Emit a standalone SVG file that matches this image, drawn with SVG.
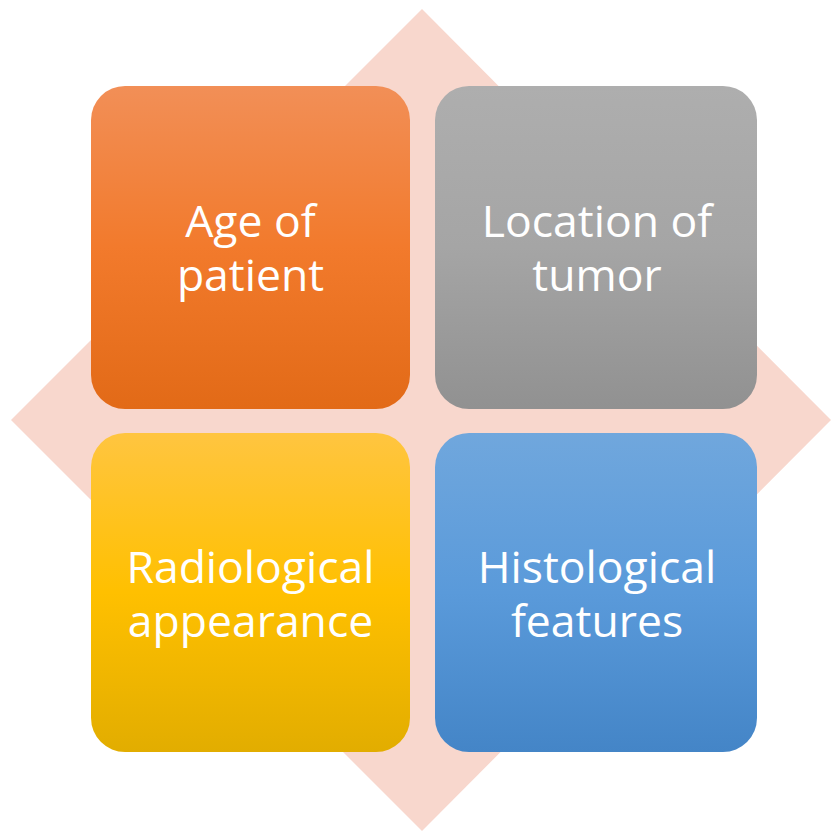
<svg xmlns="http://www.w3.org/2000/svg" width="831" height="832" viewBox="0 0 831 832">
<defs>
<linearGradient id="gOrange" x1="0" y1="0" x2="0" y2="1"><stop offset="0" stop-color="#F28F57"/><stop offset="0.5" stop-color="#F27A2C"/><stop offset="1" stop-color="#E26A17"/></linearGradient>
<linearGradient id="gGray" x1="0" y1="0" x2="0" y2="1"><stop offset="0" stop-color="#AEAEAE"/><stop offset="0.5" stop-color="#A5A5A5"/><stop offset="1" stop-color="#919191"/></linearGradient>
<linearGradient id="gYellow" x1="0" y1="0" x2="0" y2="1"><stop offset="0" stop-color="#FFC540"/><stop offset="0.5" stop-color="#FFC000"/><stop offset="1" stop-color="#E2AD00"/></linearGradient>
<linearGradient id="gBlue" x1="0" y1="0" x2="0" y2="1"><stop offset="0" stop-color="#70A7DD"/><stop offset="0.5" stop-color="#5A9ADA"/><stop offset="1" stop-color="#4485C7"/></linearGradient>
</defs>
<style>
.box{stroke:none}
.lbl{font-family:"Open Sans","Liberation Sans",sans-serif;font-size:44.5px;fill:#FFFFFF;text-anchor:middle}
</style>
<polygon id="diamond" points="422,9 831,420 422,831 11,420" fill="#F8D7CD"/>
<g id="connectors"/>
<g id="age">
<rect class="box" x="91" y="86" width="319" height="323" rx="34" fill="url(#gOrange)"/>
<text class="lbl" x="250.5" y="237">Age of</text>
<text class="lbl" x="250.5" y="291">patient</text>
</g>
<g id="location">
<rect class="box" x="435" y="86" width="322" height="323" rx="34" fill="url(#gGray)"/>
<text class="lbl" x="597" y="237">Location of</text>
<text class="lbl" x="597" y="291">tumor</text>
</g>
<g id="radiological">
<rect class="box" x="91" y="433" width="319" height="319" rx="34" fill="url(#gYellow)"/>
<text class="lbl" x="250.5" y="583">Radiological</text>
<text class="lbl" x="250.5" y="637">appearance</text>
</g>
<g id="histological">
<rect class="box" x="435" y="433" width="322" height="319" rx="34" fill="url(#gBlue)"/>
<text class="lbl" x="597" y="583">Histological</text>
<text class="lbl" x="597" y="637">features</text>
</g>
</svg>
